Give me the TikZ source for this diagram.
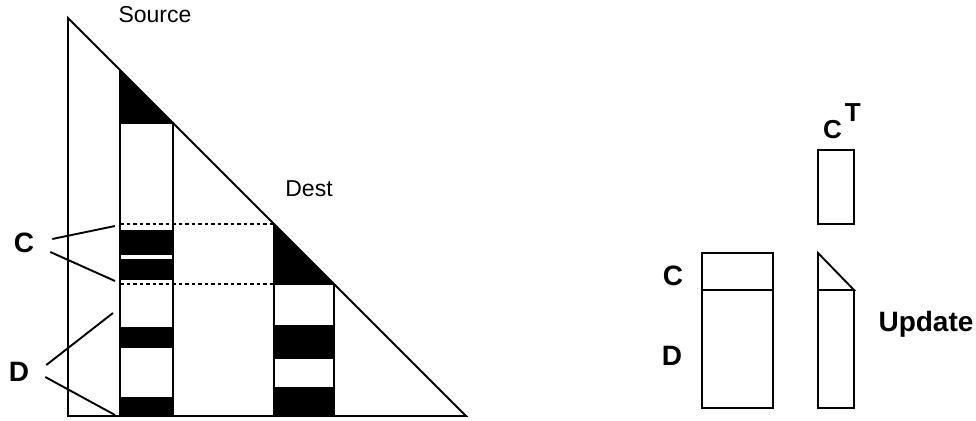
\documentclass[tikz,border=0pt]{standalone}
\usepackage{fontspec}
\setmainfont{Liberation Sans}
\usetikzlibrary{positioning}

\begin{document}
\begin{tikzpicture}[
  x=1pt, y=-1pt,
  edge/.style={line width=1.9pt},
  blk/.style={fill=black},
  dots/.style={line width=2.2pt, dash pattern=on 3.5pt off 3pt},
  lead/.style={line width=1.9pt},
  lab/.style={font=\fontsize{23}{25}\selectfont, inner sep=0pt},
  blab/.style={font=\fontsize{28}{30}\selectfont\bfseries, inner sep=0pt}
]
\useasboundingbox (0,0) rectangle (976,420);

% source column
\fill[blk] (120,70) -- (173,123) -- (120,123) -- cycle;
\fill[blk] (120,230) rectangle (173,255);
\fill[blk] (120,259) rectangle (173,280);
\fill[blk] (120,327) rectangle (173,348);
\fill[blk] (120,397) rectangle (173,416);
\draw[edge] (120,70) -- (120,416);
\draw[edge] (120,123) -- (173,123) -- (173,416);

% dest column
\fill[blk] (274,224) -- (334,284) -- (274,284) -- cycle;
\fill[blk] (274,325) rectangle (334,359);
\fill[blk] (274,387) rectangle (334,416);
\draw[edge] (274,224) -- (274,416);
\draw[edge] (274,284) -- (334,284) -- (334,416);

% dotted rows
\draw[dots] (120,224) -- (274,224);
\draw[dots] (120,284) -- (274,284);

% big triangle
\draw[edge] (68,18) -- (68,416) -- (466,416) -- cycle;

\node[lab, anchor=base] (src) at (155,23) {Source};
\node[lab, anchor=base] (dst) at (309,196) {Dest};

% labels on the left
\node[blab] (lc) at (24,243) {C};
\node[blab] (ld) at (19,372) {D};
\coordinate (c1) at (115,226);
\coordinate (c2) at (115,281);
\coordinate (d1) at (113,313);
\coordinate (d2) at (115,415);
\draw[lead] ([xshift=18pt,yshift=4pt]lc.east) -- (c1);
\draw[lead] ([xshift=16pt,yshift=-9pt]lc.east) -- (c2);
\draw[lead] ([xshift=17pt,yshift=7pt]ld.east) -- (d1);
\draw[lead] ([xshift=16pt,yshift=-5pt]ld.east) -- (d2);

% update blocks
\draw[edge] (818,150) rectangle (854,224);
\node[blab, font=\fontsize{26}{28}\selectfont\bfseries, anchor=base west] (ct) at (823,138) {C\kern3pt\raisebox{17pt}{T}};

\draw[edge] (702,253) rectangle (773,408);
\draw[edge] (702,290) -- (773,290);
\draw[edge] (818,253) -- (854,290) -- (818,290) -- cycle;
\draw[edge] (818,290) rectangle (854,408);

\node[blab] (rc) at (673,276) {C};
\node[blab] (rd) at (672,356) {D};
\node[blab, anchor=base] (upd) at (926,331) {Update};

\end{tikzpicture}
\end{document}
